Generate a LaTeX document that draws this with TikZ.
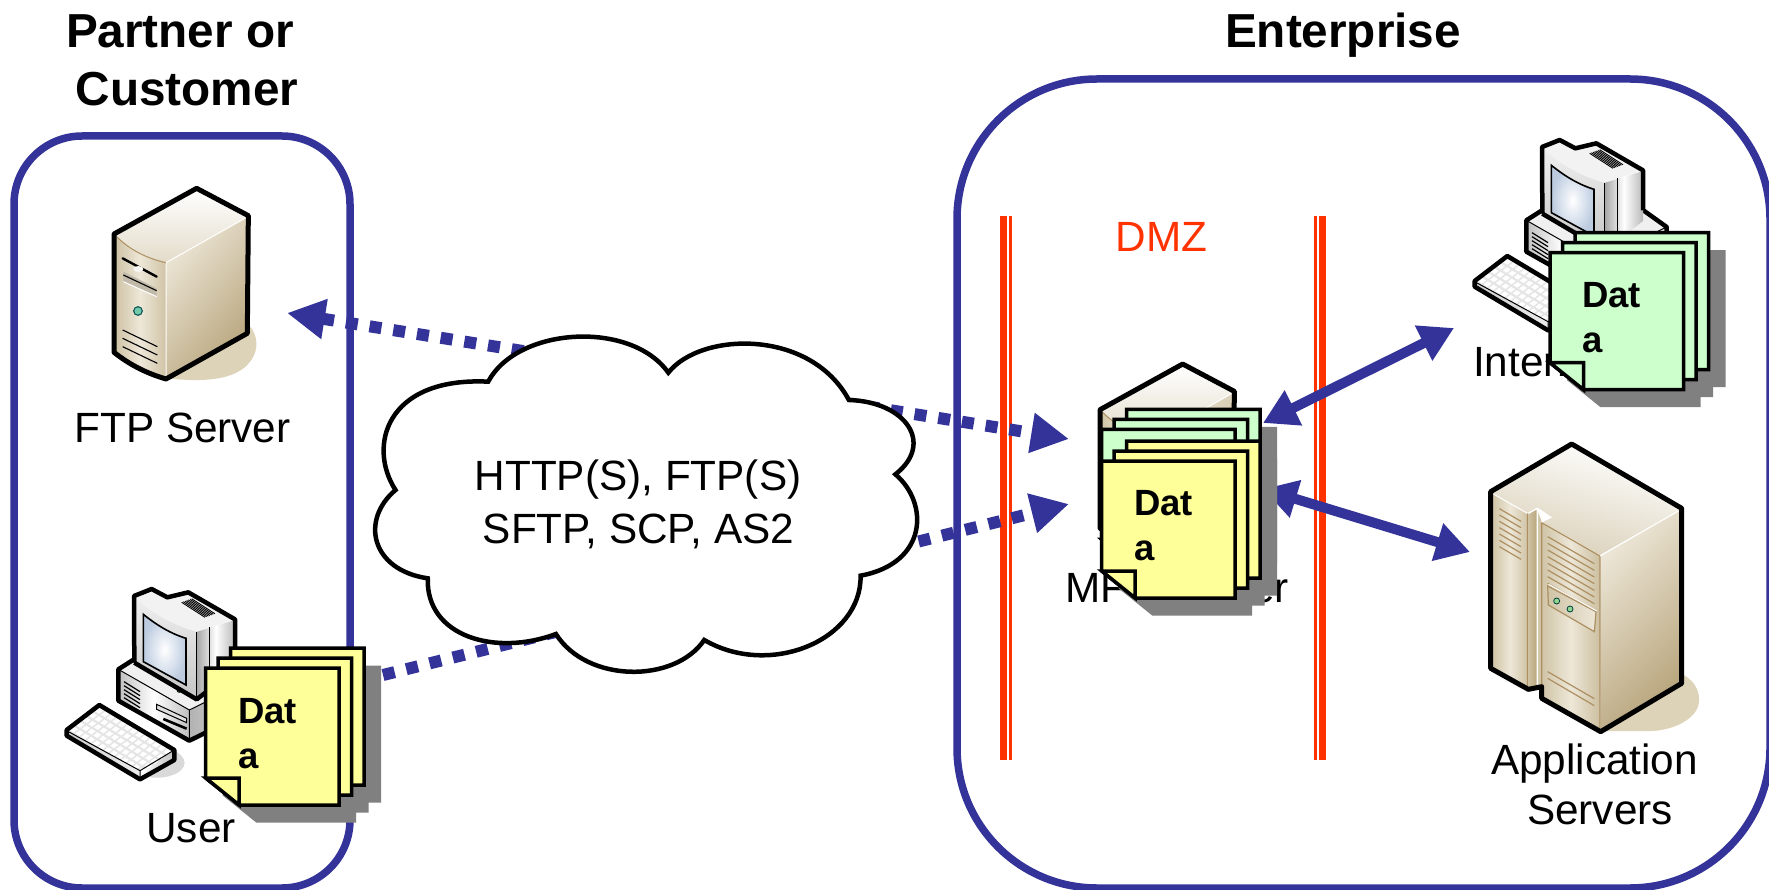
\documentclass[tikz,border=0pt]{standalone}
\usepackage{fontspec}
\setmainfont{Liberation Sans}
\usetikzlibrary{arrows.meta}
\definecolor{navy}{HTML}{333399}
\definecolor{fwred}{HTML}{FF3300}
\definecolor{noteyellow}{HTML}{FFFF99}
\definecolor{notegreen}{HTML}{CCFFCC}
\definecolor{shadowgray}{HTML}{808080}
\definecolor{tanshadow}{HTML}{DDD3B8}
\definecolor{tanlight}{HTML}{EDE7D8}
\definecolor{tanmid}{HTML}{D0C4A6}
\definecolor{tandark}{HTML}{B8A57C}
\definecolor{brownline}{HTML}{AD8F62}
\definecolor{screenblue}{HTML}{BCCBE0}
\tikzset{
  zone/.style={draw=navy,line width=7.5pt,rounded corners=#1},
  firewall/.style={fwred,line width=#1},
  linkdots/.style={draw=navy,line width=12pt,dash pattern=on 12pt off 12pt,-{Triangle[length=38pt,width=38pt]}},
  linkdotsboth/.style={draw=navy,line width=12pt,dash pattern=on 12pt off 12pt,{Triangle[length=38pt,width=38pt]}-{Triangle[length=38pt,width=38pt]}},
  linksolid/.style={draw=navy,line width=10pt,{Triangle[length=34pt,width=37pt]}-{Triangle[length=34pt,width=37pt]}},
  outline/.style={line width=5pt,line join=round},
  sheet/.style={draw=black,line width=3.5pt,line join=miter},
  title/.style={font=\fontsize{47.7}{50}\selectfont\bfseries,anchor=base,inner sep=0pt},
  label/.style={font=\fontsize{42.3}{50}\selectfont,anchor=base,inner sep=0pt},
  notetext/.style={font=\fontsize{36.5}{40}\selectfont\bfseries,anchor=base west,inner sep=0pt},
}
% stack of three sticky notes; #1,#2 = top-left of the front sheet
\newcommand\notepath{(0,0) -- (133.5,0) -- (133.5,137) -- (33.5,137) -- (0,110) -- cycle}
\newcommand\notestack[3]{%
  \begin{scope}[shift={(#1,#2)}]
    \foreach \dx/\dy in {25/-20,12.5/-10,0/0}{
      \begin{scope}[shift={(\dx+17,\dy+17.5)}]\fill[shadowgray] \notepath;\end{scope}
    }
    \foreach \dx/\dy in {25/-20,12.5/-10,0/0}{
      \begin{scope}[shift={(\dx,\dy)}]\path[sheet,fill=#3] \notepath;\end{scope}
    }
    \path[sheet,fill=#3] (0,110) -- (33.5,110) -- (33.5,137) -- cycle;
  \end{scope}}
% tower server, coordinates in 1/3 px
\newcommand\towerserver[2]{%
  \begin{scope}[shift={(#1,#2)},scale=1/3]
    \fill[tanshadow] (440,440) .. controls (520,470) and (530,590) .. (400,622) .. controls (340,635) and (280,630) .. (230,625) -- cycle;
    \fill[white] (72,192) -- (320,55) -- (475,137) -- (472,490) -- (228,627) -- (72,547) -- cycle;
    \path[shade,top color=tanlight,bottom color=tandark,shading angle=50] (228,278) -- (472,140) -- (472,490) -- (228,627) -- cycle;
    \path[left color=tanmid!90!tandark,right color=tanmid,middle color=tanlight] (72,192) .. controls (120,240) and (170,265) .. (228,278) -- (228,627) .. controls (170,610) and (120,585) .. (72,547) -- cycle;
    \path[shade,top color=white,bottom color=tanmid!60] (75,195) -- (320,58) -- (472,140) -- (228,278) .. controls (170,265) and (120,240) .. (75,195) -- cycle;
    \draw[brownline,line width=1pt] (80,200) .. controls (120,240) and (170,265) .. (228,278);
    \draw[white,line width=1pt] (228,280) -- (228,622) (228,278) -- (470,142);
    \fill[tanmid!80!black!70] (100,305) -- (200,355) -- (200,380) -- (100,335) -- cycle;
    \draw[white,line width=1pt] (100,335) -- (200,380);
    \draw[black,line width=1.1pt] (100,315) -- (200,362);
    \draw[black,line width=2.4pt,line cap=round] (98,265) -- (200,320);
    \fill[white!85!tanmid] (145,297) ellipse (15 and 9);
    \draw[fill=green!20!teal!55!white,draw=teal!60!black,line width=1pt] (144,423) circle (13);
    \foreach \o in {0,25,50}{\draw[black,line width=1.1pt] (98,480+\o) -- (202,530+\o);}
    \draw[black,outline] (72,192) -- (320,55) -- (475,137) -- (472,490) -- (228,627) .. controls (170,610) and (120,585) .. (72,547) -- cycle;
  \end{scope}}
% desktop computer, coordinates in 1/3 px
\newcommand\desktop[2]{%
  \begin{scope}[shift={(#1,#2)},scale=1/3]
    \fill[gray!30] (300,622) .. controls (360,630) and (420,600) .. (400,565) .. controls (390,550) and (375,540) .. (350,530) -- cycle;
    % base
    \path[left color=gray!50,right color=gray!50,middle color=white] (205,298) -- (418,420) -- (418,512) -- (205,392) -- cycle;
    \path[shade,left color=gray!60,right color=gray!20] (418,420) -- (626,318) -- (626,410) -- (418,512) -- cycle;
    \fill[gray!12] (205,298) -- (252,268) -- (556,268) -- (626,318) -- (418,420) -- cycle;
    \draw[line width=1pt] (205,298) -- (418,420) -- (626,318) (418,420) -- (418,512);
    \foreach \o in {0,12,24,36,48}{\draw[line width=1.2pt] (222,335+\o) -- (270,365+\o);}
    \draw[line width=1pt,fill=gray!25] (320,403) -- (410,445) -- (410,458) -- (320,418) -- cycle;
    \draw[line width=2.6pt] (340,447) -- (410,476);
    \draw[line width=4.5pt,line join=round] (252,268) -- (205,298) -- (205,392) -- (418,512) -- (626,410) -- (626,318) -- (556,268);
    % monitor
    \path[left color=gray!70,right color=gray!55,middle color=white] (440,185) -- (555,150) -- (555,300) -- (440,388) -- cycle;
    \fill[gray!10] (252,78) -- (305,57) -- (352,82) -- (415,67) -- (555,148) -- (440,185) .. controls (380,170) and (300,130) .. (252,78) -- cycle;
    \foreach \o in {0,1,2,3,4,5,6}{\draw[line width=.9pt] ({395+5*\o},{97-1.8*\o}) -- ({465+5*\o},{142-1.8*\o});}
    \path[top color=gray!12,bottom color=gray!45] (252,78) .. controls (300,130) and (380,170) .. (440,185) -- (440,388) -- (253,280) -- cycle;
    \path[inner color=white,outer color=screenblue,draw=black,line width=1.6pt] (280,133) .. controls (320,165) and (360,190) .. (408,205) -- (408,345) -- (280,275) -- cycle;
    \draw[fill=green!60!gray,line width=.8pt] (388,360) circle (7);
    \draw[line width=1.1pt] (440,185) -- (440,388) (478,172) -- (478,335);
    \draw[line width=4.5pt,line join=round] (253,278) -- (252,78) -- (305,57) -- (352,82) -- (415,67) -- (555,148) -- (555,268) (253,278) -- (440,388) -- (470,365);
    % keyboard
    \path[left color=gray!40,right color=gray!15] (50,480) -- (270,602) -- (270,628) -- (50,497) -- cycle;
    \path[left color=white,right color=gray!50] (270,602) -- (373,540) -- (373,570) -- (270,628) -- cycle;
    \fill[gray!20] (50,480) -- (148,405) -- (373,540) -- (270,602) -- cycle;
    \foreach \i in {0,...,12}{\foreach \j in {0,...,4}{
      \fill[white] ({60+\i*17+\j*19},{480+\i*10.2-\j*14}) -- ++(12,7.2) -- ++(12,-9.5) -- ++(-12,-7.2) -- cycle;
    }}
    \draw[line width=1pt] (270,602) -- (270,628) (50,482) -- (270,602) -- (373,540);
    \draw[line width=4.5pt,line join=round] (50,480) -- (148,405) -- (373,540) -- (373,570) -- (270,628) -- (50,497) -- cycle;
  \end{scope}}
% rack server, coordinates in 1/3 px
\newcommand\rackserver[2]{%
  \begin{scope}[shift={(#1,#2)},scale=1/3]
    \fill[tanshadow] (640,725) .. controls (700,735) and (730,790) .. (712,835) .. controls (690,880) and (620,905) .. (560,903) -- (420,903) -- cycle;
    \fill[white] (92,185) -- (335,42) -- (665,235) -- (665,760) -- (422,905) -- (245,805) -- (245,770) -- (205,778) -- (92,715) -- cycle;
    \path[shade,top color=tanlight,bottom color=tandark,shading angle=45] (422,378) -- (660,242) -- (660,755) -- (422,897) -- cycle;
    \path[shade,top color=white,bottom color=tanmid!80,shading angle=-15] (98,190) -- (335,48) -- (658,240) -- (420,375) -- (245,275) -- (272,262) -- (232,235) -- (205,250) -- cycle;
    \path[left color=tanmid,right color=tanmid,middle color=tanlight] (98,192) -- (202,250) -- (202,772) -- (98,712) -- cycle;
    \path[left color=tanmid,right color=tandark] (202,250) -- (232,235) -- (232,768) -- (202,772) -- cycle;
    \fill[tanmid] (232,240) -- (245,275) -- (245,775) -- (232,768) -- cycle;
    \draw[white,line width=1.4pt] (205,250) -- (232,235) -- (272,262) -- (245,275) (232,235) -- (232,768);
    \path[left color=tanmid,right color=tanmid!85!tandark,middle color=tanlight] (245,278) -- (420,378) -- (420,897) -- (245,800) -- cycle;
    \draw[brownline,line width=1.2pt] (202,250) -- (202,772) (245,278) -- (420,378) -- (420,897) (245,278) -- (245,800);
    \draw[white,line width=1pt] (100,192) -- (202,250) (420,378) -- (655,243);
    \foreach \o in {0,19,38,57,76,95,114}{\draw[brownline,line width=1.2pt] (118,236+\o) -- (183,274+\o);}
    \foreach \o in {0,20,40,60,80,100,120,140}{\draw[brownline,line width=1.2pt] (263,320+\o) -- (403,401+\o);}
    \path[left color=tanmid,right color=tanlight,draw=brownline,line width=1.2pt] (263,468) -- (408,545) -- (403,605) -- (265,525) -- cycle;
    \draw[white,line width=1pt] (266,463) -- (410,543);
    \draw[fill=green!45!gray!60,draw=teal!50!black,line width=.8pt] (290,513) circle (9) (330,537) circle (9);
    \draw[brownline,line width=1.2pt] (263,725) -- (403,806) (263,745) -- (403,827);
    \draw[black,outline] (92,185) -- (335,42) -- (665,235) -- (665,760) -- (422,905) -- (245,805) -- (245,770) -- (205,778) -- (92,715) -- cycle;
  \end{scope}}
\begin{document}
\begin{tikzpicture}[x=1pt,y=-1pt]
  \clip (0,0) rectangle (1769,890);
  \fill[white] (0,0) rectangle (1769,890);
  % zones
  \draw[zone=68pt] (14,136) rectangle (350,888) ;
  \draw[zone=140pt] (957,79) rectangle (1770,888);
  % firewalls
  \foreach \x/\w in {1003.6/7.3,1010.7/2.7,1322.5/7,1315.5/2.7}{\draw[firewall=\w pt] (\x,216) -- (\x,760);}
  % labels behind
  \node[title] (partner1) at (180,48) {Partner or};
  \node[title] (partner2) at (187,106) {Customer};
  \node[title] (enterprise) at (1343,48) {Enterprise};
  \node[label,text=fwred] (dmz) at (1161.5,252) {DMZ};
  \node[label] (ftplabel) at (182.5,442) {FTP Server};
  \node[label] (userlabel) at (191,842) {User};
  \node[label] (mftlabel) at (1177,602) {MFT Server};
  \node[label,anchor=base west] (intlabel) at (1473,377) {Internal};
  \node[label] (applabel1) at (1594.5,774) {Application};
  \node[label] (applabel2) at (1600,824) {Servers};
  % connector ends
  \coordinate (ftpend) at (287,313);
  \coordinate (mftupper) at (1069,439);
  \coordinate (mftlower) at (1069,504);
  \coordinate (userend) at (383,675);
  \coordinate (mftintern) at (1263,423);
  \coordinate (internend) at (1454,328);
  \coordinate (mftapp) at (1263,489);
  \coordinate (append) at (1470,552);
  % icons
  \towerserver{90}{170}
  \rackserver{1460}{430}
  \desktop{1458}{121}
  \desktop{50}{570}
  % connectors
  \draw[linkdotsboth] (ftpend) -- (mftupper);
  \draw[linkdots] (userend) -- (mftlower);
  \draw[linksolid] (mftintern) -- (internend);
  \draw[linksolid] (mftapp) -- (append);
  % cloud
  \begin{scope}[shift={(360,320)},xscale=0.3662,yscale=1/3]
    \draw[fill=white,line width=4.5pt,line join=miter] (350,185)
      .. controls (430,20) and (740,0) .. (842,158)
      .. controls (930,35) and (1230,25) .. (1335,240)
      .. controls (1490,245) and (1570,370) .. (1462,463)
      .. controls (1555,550) and (1550,730) .. (1367,767)
      .. controls (1370,960) and (1120,1075) .. (940,960)
      .. controls (860,1090) and (620,1090) .. (535,942)
      .. controls (370,1010) and (180,950) .. (185,775)
      .. controls (30,750) and (0,600) .. (97,510)
      .. controls (20,380) and (70,170) .. (350,185) -- cycle;
  \end{scope}
  \node[label] (proto1) at (638,490) {HTTP(S), FTP(S)};
  \node[label] (proto2) at (638.5,543) {SFTP, SCP, AS2};
  % MFT server and notes
  \towerserver{1076}{345.7}
  \notestack{1101.7}{429.3}{notegreen}
  \notestack{1101.7}{461}{noteyellow}
  \node[notetext] (mftd) at (1134,515.7) {Dat};
  \node[notetext] (mfta) at (1134,560.7) {a};
  \notestack{205.7}{668}{noteyellow}
  \node[notetext] (userd) at (238,723) {Dat};
  \node[notetext] (usera) at (238,768) {a};
  \notestack{1550}{252.7}{notegreen}
  \node[notetext] (intd) at (1582,307.7) {Dat};
  \node[notetext] (inta) at (1582,352.7) {a};
\end{tikzpicture}
\end{document}
